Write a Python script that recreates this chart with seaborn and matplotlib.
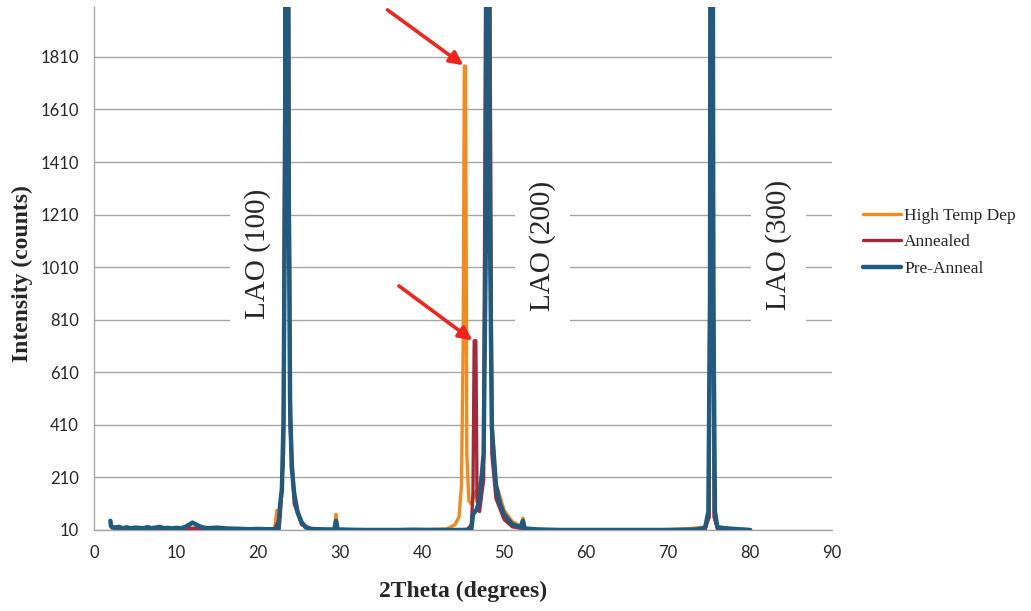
import matplotlib.pyplot as plt
import pandas as pd
import seaborn as sns

# XRD scans (2Theta in degrees, intensity in counts)
pre_x = [2.0, 2.05, 2.2, 2.5, 3.0, 3.5, 4.0, 4.5, 5.0, 5.5, 6.0, 6.5, 7.0, 7.5, 8.0, 8.5, 9.0,
         9.5, 10.0, 10.5, 11.0, 11.5, 12.0, 12.5, 13.0, 13.5, 14.0, 15.0, 16.0, 17.0, 18.0,
         19.0, 20.0, 21.0, 22.0, 22.5, 22.7, 22.9, 23.1, 23.3, 23.5, 23.7, 23.9, 24.1, 24.4,
         24.8, 25.3, 25.8, 26.5, 28.0, 29.3, 29.5, 29.7, 31.0, 33.0, 35.0, 37.0, 39.0, 41.0,
         43.0, 45.0, 46.0, 46.2, 46.6, 47.0, 47.5, 47.8, 48.0, 48.2, 48.5, 49.0, 49.5, 50.0,
         50.5, 51.0, 52.0, 52.3, 52.5, 54.0, 57.0, 60.0, 63.0, 66.0, 69.0, 72.0, 73.5, 74.5,
         74.9, 75.1, 75.3, 75.5, 75.7, 76.0, 77.0, 78.0, 79.0, 80.0]
pre_y = [45, 30, 20, 18, 22, 17, 20, 16, 19, 18, 16, 21, 17, 19, 22, 17, 18,
         16, 18, 17, 20, 28, 38, 30, 22, 18, 17, 19, 16, 15, 14,
         13, 14, 13, 13, 14, 110, 160, 420, 1400, 6000, 1500, 500, 250, 150,
         80, 40, 20, 14, 12, 12, 45, 12, 11, 10, 10, 10, 11, 10,
         10, 10, 11, 70, 85, 120, 300, 1200, 6000, 1400, 400, 180, 110, 70,
         50, 32, 20, 45, 16, 12, 10, 10, 10, 10, 10, 11, 12, 18,
         80, 900, 6000, 900, 80, 20, 16, 14, 12, 10]

ann_x = [2.0, 3.0, 5.0, 8.0, 12.0, 16.0, 20.0, 22.0, 22.7, 23.1, 23.5, 23.9, 24.4, 25.3,
         26.5, 30.0, 35.0, 40.0, 44.0, 45.5, 46.0, 46.2, 46.35, 46.55, 46.7, 47.0, 47.5, 48.0,
         48.5, 49.0, 50.0, 51.0, 53.0, 60.0, 70.0, 74.5, 75.0, 75.3, 75.6, 76.0, 78.0, 80.0]
ann_y = [25, 16, 17, 15, 16, 14, 13, 12, 60, 300, 4000, 400, 110, 30,
         12, 10, 10, 10, 10, 12, 30, 150, 730, 730, 120, 80, 200, 4000,
         300, 130, 50, 22, 12, 10, 10, 12, 60, 4000, 60, 15, 12, 10]

high_x = [2.0, 3.0, 5.0, 8.0, 12.0, 16.0, 20.0, 22.0, 22.3, 22.4, 22.6, 23.1, 23.5, 23.9,
          24.4, 25.3, 26.5, 29.3, 29.5, 29.7, 32.0, 36.0, 40.0, 43.0, 44.0, 44.5, 44.8, 45.0,
          45.15, 45.3, 45.45, 45.7, 46.0, 46.5, 47.0, 47.5, 48.0, 48.5, 49.0, 50.0, 51.0, 52.0,
          52.3, 52.5, 55.0, 62.0, 70.0, 73.0, 74.5, 75.0, 75.3, 75.6, 76.0, 77.5, 80.0]
high_y = [25, 18, 18, 16, 17, 15, 14, 13, 85, 30, 20, 300, 4000, 450,
          130, 35, 14, 12, 70, 12, 10, 10, 11, 14, 30, 60, 180, 700,
          1775, 1775, 300, 120, 110, 150, 180, 240, 4000, 420, 190, 85, 42, 25,
          55, 14, 11, 10, 11, 16, 22, 60, 4000, 60, 22, 16, 11]

series_names = ['High Temp Dep', 'Annealed', 'Pre-Anneal']
series_colors = ['#F28A1E', '#A4283A', '#1F5B80']

y_ticks = [10, 210, 410, 610, 810, 1010, 1210, 1410, 1610, 1810]
x_ticks = [0, 10, 20, 30, 40, 50, 60, 70, 80, 90]

peak_labels = ['LAO (100)', 'LAO (200)', 'LAO (300)']
peak_label_x = [19.9, 54.7, 83.4]
peak_label_y = [1060, 1090, 1095]

sns.set_style('white')

fig = plt.figure(figsize=(10.31, 6.11), dpi=100)
ax = fig.add_axes([0.0912, 0.1326, 0.716, 0.856])

scans = [(high_x, high_y), (ann_x, ann_y), (pre_x, pre_y)]
widths = [2.4, 2.4, 3.2]
for (xs, ys), name, color, lw in zip(scans, series_names, series_colors, widths):
    df = pd.DataFrame({'2Theta': xs, 'Intensity': ys})
    sns.lineplot(data=df, x='2Theta', y='Intensity', ax=ax, color=color,
                 linewidth=lw, label=name, sort=False, estimator=None, zorder=3)

ax.set_xlim(0, 90)
ax.set_ylim(10, 2000)
ax.set_xticks(x_ticks)
ax.set_yticks(y_ticks)
ax.yaxis.grid(True, color='#A6A6A6', linewidth=1.0)
ax.xaxis.grid(False)
ax.set_axisbelow(True)

for side in ['top', 'right']:
    ax.spines[side].set_visible(False)
for side in ['left', 'bottom']:
    ax.spines[side].set_color('#A6A6A6')
    ax.spines[side].set_linewidth(1.0)
ax.tick_params(axis='both', which='major', direction='out', length=5, width=1,
               color='#A6A6A6', labelsize=12, pad=6)
for lab in ax.get_xticklabels() + ax.get_yticklabels():
    lab.set_family('Lato')

ax.set_xlabel('2Theta (degrees)', family='Liberation Serif', fontweight='bold',
              fontsize=17, labelpad=14)
ax.set_ylabel('Intensity (counts)', family='Liberation Serif', fontweight='bold',
              fontsize=17)
ax.yaxis.set_label_coords(-0.082, 0.49)

for txt, tx, ty in zip(peak_labels, peak_label_x, peak_label_y):
    ax.text(tx, ty, txt, rotation=90, ha='center', va='center', family='Liberation Serif',
            fontsize=21, zorder=2,
            bbox=dict(facecolor='white', edgecolor='none', pad=10))

# red arrows pointing at the two new peaks
arrow_style = dict(arrowstyle='-|>', color='#F2231B', lw=2.6, mutation_scale=20)
ax.annotate('', xy=(45.3, 1772), xytext=(35.5, 1995), arrowprops=arrow_style,
            annotation_clip=False, zorder=4)
ax.annotate('', xy=(46.4, 725), xytext=(36.9, 945), arrowprops=arrow_style,
            annotation_clip=False, zorder=4)

ax.legend(loc='center left', bbox_to_anchor=(1.02, 0.55), frameon=False,
          prop={'family': 'Liberation Serif', 'size': 12.5}, handlelength=2.2,
          handletextpad=0.2, labelspacing=0.6)

fig.savefig('out.png', dpi=100)
